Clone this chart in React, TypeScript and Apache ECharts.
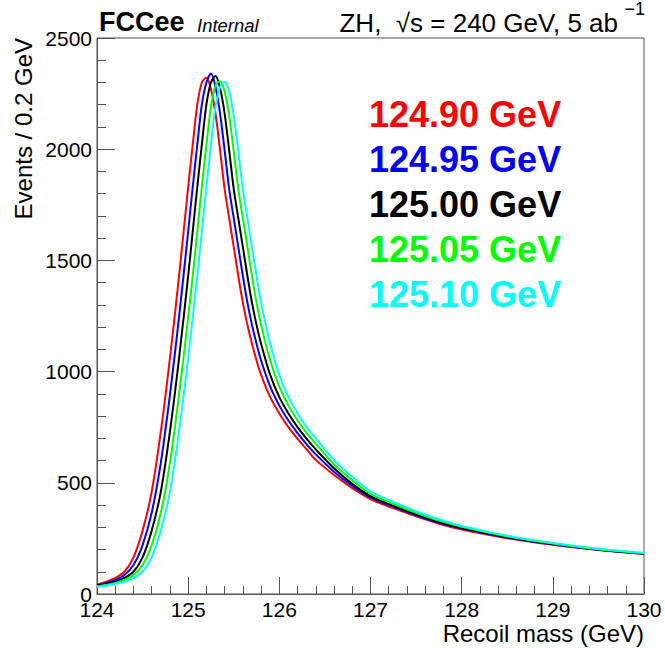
import React, { useEffect, useRef } from "react";
import * as echarts from "echarts";

// Recoil mass grid (GeV)
const masses = [
  124.0, 124.1, 124.2, 124.3, 124.4, 124.5, 124.6, 124.7, 124.8, 124.9,
  125.0, 125.05, 125.1, 125.15, 125.2, 125.25, 125.3, 125.35, 125.4, 125.45,
  125.5, 125.55, 125.6, 125.65, 125.7, 125.75, 125.8, 125.9, 126.0, 126.1,
  126.2, 126.3, 126.4, 126.6, 126.8, 127.0, 127.25, 127.5, 127.75, 128.0,
  128.5, 129.0, 129.5, 130.0,
];

// Events / 0.2 GeV for each Higgs mass hypothesis
const h12490 = [
  42, 55, 72, 100, 165, 285, 460, 730, 1060, 1430,
  1830, 2020, 2200, 2300, 2322, 2270, 2160, 1995, 1820, 1690,
  1560, 1430, 1310, 1210, 1125, 1050, 985, 885, 812, 750,
  697, 650, 603, 535, 476, 427, 386, 349, 316, 290,
  251, 221, 198, 180,
];
const h12495 = [
  40, 50, 63, 85, 130, 220, 365, 590, 895, 1245,
  1630, 1830, 2020, 2200, 2300, 2340, 2280, 2160, 1995, 1820,
  1690, 1560, 1430, 1310, 1210, 1125, 1050, 932, 847, 780,
  723, 673, 628, 550, 486, 434, 392, 354, 320, 294,
  254, 224, 199, 181,
];
const h12500 = [
  38, 45, 55, 72, 100, 165, 285, 460, 730, 1060,
  1430, 1630, 1830, 2020, 2200, 2300, 2329, 2275, 2160, 1995,
  1820, 1690, 1560, 1430, 1310, 1210, 1125, 985, 885, 812,
  750, 697, 650, 565, 495, 440, 397, 358, 324, 297,
  256, 225, 200, 182,
];
const h12505 = [
  35, 41, 50, 63, 85, 130, 220, 365, 590, 895,
  1245, 1430, 1630, 1830, 2020, 2190, 2285, 2306, 2260, 2150,
  1990, 1820, 1690, 1560, 1430, 1310, 1210, 1050, 932, 847,
  780, 723, 675, 582, 511, 450, 405, 365, 330, 302,
  259, 227, 201, 183,
];
const h12510 = [
  32, 38, 45, 55, 72, 100, 165, 285, 460, 730,
  1060, 1245, 1430, 1630, 1830, 2020, 2190, 2280, 2303, 2260,
  2150, 1990, 1820, 1690, 1560, 1430, 1310, 1125, 985, 885,
  812, 750, 700, 603, 527, 462, 414, 372, 336, 306,
  262, 229, 203, 184,
];

const seriesNames = ["124.90 GeV", "124.95 GeV", "125.00 GeV", "125.05 GeV", "125.10 GeV"];
const seriesColors = ["#ff0000", "#0000ff", "#000000", "#00ff00", "#00ffff"];
const seriesValues = [h12490, h12495, h12500, h12505, h12510];

const xMin = 124;
const xMax = 130;
const yMin = 0;
const yMax = 2500;

const FONT = '"Liberation Sans", Arial, Helvetica, sans-serif';

export default function App() {
  const ref = useRef<HTMLDivElement>(null);

  useEffect(() => {
    if (!ref.current) return;
    const chart = echarts.init(ref.current, undefined, { renderer: "svg" });

    const legendY = [114, 159, 204.5, 249.5, 294];

    const option: any = {
      animation: false,
      backgroundColor: "#ffffff",
      grid: {
        left: 97,
        right: 21,
        top: 38,
        bottom: 65,
        show: true,
        borderColor: "#555",
        borderWidth: 1,
        backgroundColor: "transparent",
      },
      xAxis: {
        type: "value",
        min: xMin,
        max: xMax,
        interval: 1,
        axisLine: { show: true, onZero: false, lineStyle: { color: "#555", width: 1 } },
        axisTick: { show: true, inside: true, length: 17, lineStyle: { color: "#555" } },
        minorTick: { show: true, splitNumber: 5, length: 8, lineStyle: { color: "#555" } },
        splitLine: { show: false },
        axisLabel: {
          color: "#000",
          fontFamily: FONT,
          fontSize: 21,
          margin: 5,
          formatter: (v: number) => String(v),
        },
      },
      yAxis: {
        type: "value",
        min: yMin,
        max: yMax,
        interval: 500,
        axisLine: { show: true, onZero: false, lineStyle: { color: "#555", width: 1 } },
        axisTick: { show: true, inside: true, length: 18, lineStyle: { color: "#555" } },
        minorTick: { show: true, splitNumber: 5, length: 9, lineStyle: { color: "#555" } },
        splitLine: { show: false },
        axisLabel: {
          color: "#000",
          fontFamily: FONT,
          fontSize: 21,
          margin: 5,
          formatter: (v: number) => String(v),
        },
      },
      series: seriesValues.map((vals, i) => ({
        name: seriesNames[i],
        type: "line",
        data: masses.map((m, j) => [m, vals[j]]),
        showSymbol: false,
        smooth: 0.3,
        lineStyle: { color: seriesColors[i], width: 2 },
        itemStyle: { color: seriesColors[i] },
        z: 2 + i,
      })),
      graphic: [
        {
          type: "text",
          x: 99,
          y: 22,
          style: {
            text: "FCCee",
            font: `bold 27px ${FONT}`,
            fill: "#000",
            textAlign: "left",
            textVerticalAlign: "middle",
          },
        },
        {
          type: "text",
          x: 197,
          y: 25,
          style: {
            text: "Internal",
            font: `italic 18.5px ${FONT}`,
            fill: "#000",
            textAlign: "left",
            textVerticalAlign: "middle",
          },
        },
        {
          type: "text",
          x: 618,
          y: 22.5,
          style: {
            text: "ZH,  \u221As = 240 GeV, 5 ab",
            font: `26px ${FONT}`,
            fill: "#000",
            textAlign: "right",
            textVerticalAlign: "middle",
          },
        },
        {
          type: "text",
          x: 645,
          y: 9,
          style: {
            text: "\u22121",
            font: `18px ${FONT}`,
            fill: "#000",
            textAlign: "right",
            textVerticalAlign: "middle",
          },
        },
        {
          type: "text",
          x: 644,
          y: 633,
          style: {
            text: "Recoil mass (GeV)",
            font: `24px ${FONT}`,
            fill: "#000",
            textAlign: "right",
            textVerticalAlign: "middle",
          },
        },
        {
          type: "text",
          x: 23,
          y: 38,
          rotation: Math.PI / 2,
          style: {
            text: "Events / 0.2 GeV",
            font: `24px ${FONT}`,
            fill: "#000",
            textAlign: "right",
            textVerticalAlign: "middle",
          },
        },
        ...seriesNames.map((n, i) => ({
          type: "text",
          x: 369,
          y: legendY[i],
          style: {
            text: n,
            font: `bold 36px ${FONT}`,
            fill: seriesColors[i],
            textAlign: "left",
            textVerticalAlign: "middle",
          },
        })),
      ],
    };

    chart.setOption(option);
    return () => {
      chart.dispose();
    };
  }, []);

  return (
    <div
      ref={ref}
      style={{ position: "fixed", left: 0, top: 0, width: 665, height: 659, background: "#fff" }}
    />
  );
}
